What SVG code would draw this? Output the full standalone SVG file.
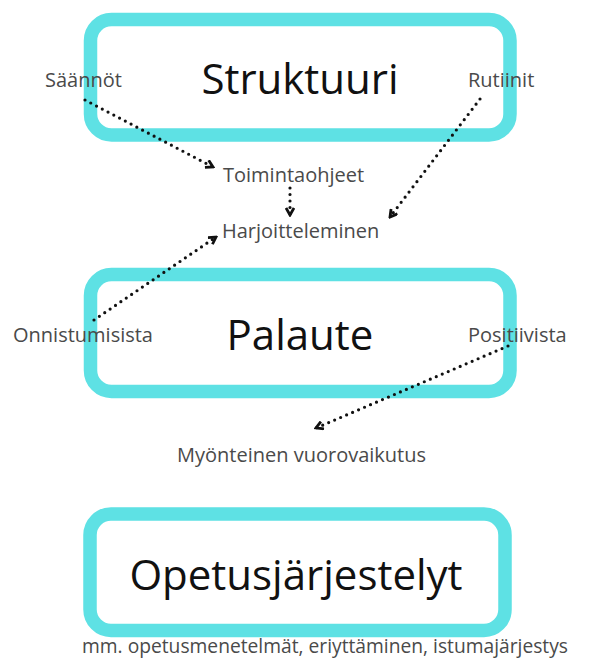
<svg xmlns="http://www.w3.org/2000/svg" width="589" height="664" viewBox="0 0 589 664">
<defs>
<style>
.box{fill:#fff;stroke:#5ee1e4;stroke-width:13.5}
.title{font-family:"Open Sans","Noto Sans",sans-serif;font-size:42px;fill:#111;text-anchor:middle}
.lbl{font-family:"Open Sans","Noto Sans",sans-serif;font-size:20px;fill:#4a4a4a}
.conn{fill:none;stroke:#111;stroke-width:3.2;stroke-linecap:round;stroke-dasharray:0 6.5}
</style>
<marker id="ah" viewBox="0 0 10 10" refX="8" refY="5" markerWidth="10" markerHeight="10" markerUnits="userSpaceOnUse" orient="auto">
<path d="M1,1 L8,5 L1,9" fill="none" stroke="#111" stroke-width="2.8" stroke-linejoin="miter"/>
</marker>
</defs>
<rect width="589" height="664" fill="#fff"/>
<g id="struktuuri">
<rect class="box" x="90.5" y="19.5" width="419.5" height="115.5" rx="21"/>
<text class="title" x="300" y="94">Struktuuri</text>
</g>
<g id="palaute">
<rect class="box" x="90.5" y="274.5" width="419.5" height="117" rx="21"/>
<text class="title" x="300" y="350">Palaute</text>
</g>
<g id="opetusjarjestelyt">
<rect class="box" x="90" y="514" width="415" height="116.5" rx="21"/>
<text class="title" x="296" y="590">Opetusjärjestelyt</text>
<text class="lbl" x="82" y="653" textLength="486" lengthAdjust="spacingAndGlyphs">mm. opetusmenetelmät, eriyttäminen, istumajärjestys</text>
</g>
<g id="saannot"><text class="lbl" x="45" y="87">Säännöt</text></g>
<g id="rutiinit"><text class="lbl" x="468" y="87">Rutiinit</text></g>
<g id="toimintaohjeet"><text class="lbl" x="223" y="182">Toimintaohjeet</text></g>
<g id="harjoitteleminen"><text class="lbl" x="222" y="238">Harjoitteleminen</text></g>
<g id="onnistumisista"><text class="lbl" x="13" y="342">Onnistumisista</text></g>
<g id="positiivista"><text class="lbl" x="468" y="342">Positiivista</text></g>
<g id="myonteinen"><text class="lbl" x="177" y="462">Myönteinen vuorovaikutus</text></g>
<g id="connectors">
<path class="conn" d="M85,100 L213,167" marker-end="url(#ah)"/>
<path class="conn" d="M290,188 L290,215" marker-end="url(#ah)"/>
<path class="conn" d="M480,99 L390,217" marker-end="url(#ah)"/>
<path class="conn" d="M94,320 L216,237" marker-end="url(#ah)"/>
<path class="conn" d="M508,346 L316,428" marker-end="url(#ah)"/>
</g>
</svg>
